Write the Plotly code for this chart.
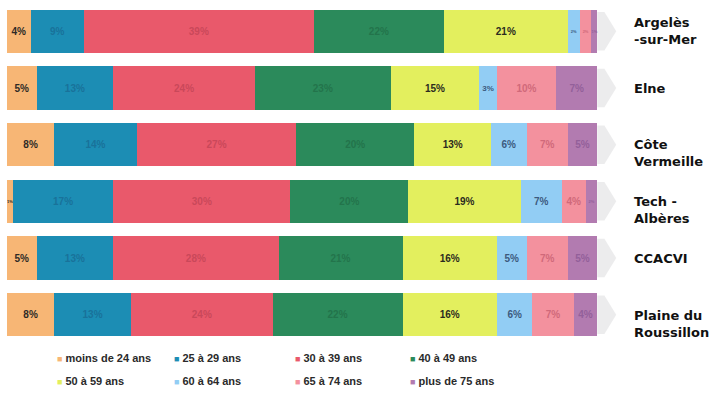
import plotly.graph_objects as go

# Territoires (du haut vers le bas)
territoires = ["Argelès-sur-Mer", "Elne", "Côte Vermeille", "Tech - Albères", "CCACVI", "Plaine du Roussillon"]
etiquettes = ["Argelès<br>-sur-Mer", "Elne", "Côte<br>Vermeille", "Tech -<br>Albères", "CCACVI", "Plaine du<br>Roussillon"]

# Tranches d'âge
tranches = ["moins de 24 ans", "25 à 29 ans", "30 à 39 ans", "40 à 49 ans",
            "50 à 59 ans", "60 à 64 ans", "65 à 74 ans", "plus de 75 ans"]

# Répartition en % par territoire (même ordre que territoires)
moins_24 = [4, 5, 8, 1, 5, 8]
de_25_29 = [9, 13, 14, 17, 13, 13]
de_30_39 = [39, 24, 27, 30, 28, 24]
de_40_49 = [22, 23, 20, 20, 21, 22]
de_50_59 = [21, 15, 13, 19, 16, 16]
de_60_64 = [2, 3, 6, 7, 5, 6]
de_65_74 = [2, 10, 7, 4, 7, 7]
plus_75 = [1, 7, 5, 2, 5, 4]

series = [moins_24, de_25_29, de_30_39, de_40_49, de_50_59, de_60_64, de_65_74, plus_75]

couleurs = ["#F7B675", "#1C8DB4", "#E9596B", "#2B8A5B", "#E3EF5E", "#92CDF4", "#F3919E", "#B27BB0"]
couleurs_texte = ["#2E2A26", "#19729A", "#C9485A", "#23744B", "#2B2B1E", "#3C5A7E", "#D0697A", "#93609A"]

fig = go.Figure()
for nom, vals, coul, ctexte in zip(tranches, series, couleurs, couleurs_texte):
    fig.add_trace(go.Bar(
        name=nom,
        y=territoires,
        x=vals,
        orientation="h",
        marker=dict(color=coul, line=dict(width=0)),
        text=[f"{v}%" for v in vals],
        textposition="inside",
        insidetextanchor="middle",
        textangle=0,
        textfont=dict(family="Liberation Sans", size=10, color=ctexte, weight="bold"),
        showlegend=False,
        hoverinfo="skip",
    ))

# Ombre grise en forme de flèche au bout de chaque barre
totaux = [sum(s[i] for s in series) for i in range(len(territoires))]
for i, tot in enumerate(totaux):
    fig.add_shape(
        type="path",
        xref="x", yref="y",
        path=(f"M {tot},{i - 0.34} L {tot + 1.2},{i - 0.34} L {tot + 3.2},{i} "
              f"L {tot + 1.2},{i + 0.34} L {tot},{i + 0.34} Z"),
        fillcolor="rgba(185,185,192,0.28)",
        line=dict(width=0),
        layer="below",
    )

# Noms des territoires à droite des barres
decalages = {"Côte<br>Vermeille": -8, "Tech -<br>Albères": -9, "Plaine du<br>Roussillon": -9}
for terr, lab in zip(territoires, etiquettes):
    fig.add_annotation(
        x=1.0236, xref="paper", y=terr, yref="y",
        text=lab, showarrow=False, xanchor="left", yanchor="middle", align="left",
        yshift=decalages.get(lab, 0),
        font=dict(family="DejaVu Sans", size=13, color="#111111", weight="bold"),
    )

# Légende sur deux lignes de quatre entrées
col_x = [0.0778, 0.2700, 0.4676, 0.6570]
lig_y = [-0.045, -0.112]
for k, (nom, coul) in enumerate(zip(tranches, couleurs)):
    r, c = divmod(k, 4)
    fig.add_annotation(
        x=col_x[c], xref="paper", y=lig_y[r], yref="paper",
        text=f"<span style='color:{coul};font-size:9px'>■</span> {nom}",
        showarrow=False, xanchor="left", yanchor="middle",
        font=dict(family="Liberation Sans", size=11, color="#2A2A2A", weight="bold"),
    )

fig.update_layout(
    barmode="stack",
    bargap=0.24,
    width=717, height=398,
    margin=dict(l=7, r=99, t=3, b=55),
    paper_bgcolor="white",
    plot_bgcolor="white",
    xaxis=dict(range=[0, 103.5], visible=False, fixedrange=True),
    yaxis=dict(categoryorder="array", categoryarray=territoires, autorange="reversed",
               visible=False, fixedrange=True),
    showlegend=False,
)

fig.write_html("out.html", config={"displayModeBar": False})
